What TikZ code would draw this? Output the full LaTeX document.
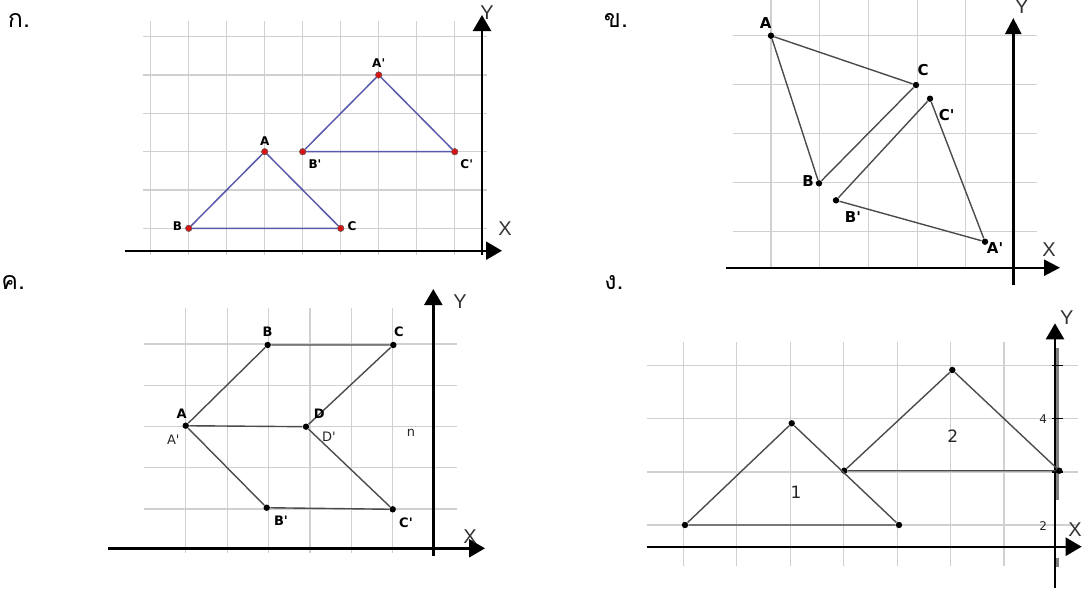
\documentclass[tikz,border=0pt]{standalone}
\usepackage{fontspec}
\setmainfont{Liberation Sans}
\newfontfamily\thaifont[Script=Thai]{Loma}
\newfontfamily\lblfont{DejaVu Sans}
\usetikzlibrary{arrows.meta}
\definecolor{gridgray}{RGB}{208,208,208}
\definecolor{segblue}{RGB}{90,90,172}
\definecolor{seggray}{RGB}{75,75,75}
\definecolor{dotred}{RGB}{215,20,20}

\begin{document}
\begin{tikzpicture}[x=0.5pt, y=-0.5pt,
    gridline/.style={draw=gridgray, line width=0.6pt},
    axis/.style={-{Triangle[length=8pt, width=9pt]}, line width=1.2pt},
    seg/.style={draw=seggray, line width=0.7pt},
    bseg/.style={draw=segblue, line width=0.75pt},
    pt/.style={circle, fill=black, inner sep=0pt, minimum size=3.2pt},
    rpt/.style={circle, fill=dotred, draw=black!60, line width=0.2pt, inner sep=0pt, minimum size=3.2pt},
    tag/.style={font=\thaifont\fontsize{12.5}{15}\selectfont, inner sep=0pt},
    axlbl/.style={font=\fontsize{10}{12}\selectfont, text=black!80, inner sep=0pt},
    lbl/.style={font=\lblfont\bfseries\fontsize{#1}{#1}\selectfont, inner sep=0pt},
    lbl/.default=6.5,
    rlbl/.style={font=\lblfont\fontsize{#1}{#1}\selectfont, text=black!85, inner sep=0pt},
    rlbl/.default=6.5
]
    \useasboundingbox (0,0) rectangle (1082,590);

    % ก.
    \node[tag] (tagA) at (19,20) {ก.};
    \foreach \i in {0,...,8} \draw[gridline] ({150.7+38*\i},21) -- ++(0,234);
    \foreach \j in {0,...,5} \draw[gridline] (143,{36.7+38.3*\j}) -- (487,{36.7+38.3*\j});
    \draw[axis] (125,250.7) -- (502,250.7);
    \draw[axis] (482,255) -- (482,15);
    \node[axlbl] (yA) at (487,13) {Y};
    \node[axlbl] (xA) at (505,229) {X};
    \node[rpt] (kA) at (264.7,151.7) {};
    \node[rpt] (kB) at (188.7,228.3) {};
    \node[rpt] (kC) at (340.7,228.3) {};
    \node[rpt] (kA') at (378.7,75) {};
    \node[rpt] (kB') at (302.7,151.7) {};
    \node[rpt] (kC') at (454.7,151.7) {};
    \draw[bseg] (kA) -- (kB) -- (kC) -- (kA);
    \draw[bseg] (kA') -- (kB') -- (kC') -- (kA');
    \node[rpt] at (kA) {}; \node[rpt] at (kB) {}; \node[rpt] at (kC) {};
    \node[rpt] at (kA') {}; \node[rpt] at (kB') {}; \node[rpt] at (kC') {};
    \node[lbl=6] (lkA) at (264.7,141) {A};
    \node[lbl=6] (lkB) at (177.5,225.7) {B};
    \node[lbl=6] (lkC) at (352,225.7) {C};
    \node[lbl=6] (lkA') at (378.7,63.3) {A'};
    \node[lbl=6] (lkB') at (315,164) {B'};
    \node[lbl=6] (lkC') at (466.7,164) {C'};

    % ข.
    \node[tag] (tagB) at (616,20) {ข.};
    \foreach \i in {0,...,4} \draw[gridline] ({771+48.7*\i},0) -- ++(0,267);
    \foreach \j in {0,...,4} \draw[gridline] (733,{35.7+49*\j}) -- (1037,{35.7+49*\j});
    \draw[axis, -{Triangle[length=8pt, width=8pt]}] (726,267.7) -- (1060,267.7);
    \draw[axis, -{Triangle[length=8pt, width=8pt]}] (1013.3,285) -- (1013.3,18);
    \node[axlbl] (yB) at (1021.7,7) {Y};
    \node[axlbl] (xB) at (1049,250) {X};
    \node[pt] (mA) at (771,35.7) {};
    \node[pt] (mB) at (819,183.3) {};
    \node[pt] (mC) at (916,85) {};
    \node[pt] (mA') at (985,241.7) {};
    \node[pt] (mB') at (836,200.3) {};
    \node[pt] (mC') at (930,98.7) {};
    \draw[seg] (mA) -- (mC) -- (mB) -- (mA);
    \draw[seg] (mA') -- (mB') -- (mC') -- (mA');
    \node[lbl=7.5] (lmA) at (765.7,22.7) {A};
    \node[lbl=7.5] (lmB) at (808,180.7) {B};
    \node[lbl=7.5] (lmC) at (923,70) {C};
    \node[lbl=7.5] (lmA') at (995,248) {A'};
    \node[lbl=7.5] (lmB') at (853,217) {B'};
    \node[lbl=7.5] (lmC') at (946.7,115) {C'};

    % ค.
    \node[tag, anchor=west] (tagC) at (1,282) {ค.};
    \foreach \i in {0,...,5} \draw[gridline] ({185.7+41.4*\i},308.3) -- ++(0,245);
    \foreach \j in {0,...,4} \draw[gridline] (144,{344+41.25*\j}) -- (456.7,{344+41.25*\j});
    \draw[axis] (108,548.3) -- (485,548.3);
    \draw[axis] (433.3,556) -- (433.3,289);
    \node[axlbl] (yC) at (460,301.7) {Y};
    \node[axlbl] (xC) at (470,536.7) {X};
    \node[pt] (nA) at (185.7,425.7) {};
    \node[pt] (nB) at (267.7,345) {};
    \node[pt] (nC) at (393.3,345) {};
    \node[pt] (nD) at (306,426.7) {};
    \node[pt] (nB') at (266.7,507.7) {};
    \node[pt] (nC') at (392.7,509.3) {};
    \draw[seg] (nA) -- (nB) -- (nC) -- (nD) -- (nA);
    \draw[seg] (nA) -- (nB') -- (nC') -- (nD);
    \node[lbl] (lnA) at (181.7,414) {A};
    \node[rlbl] (lnA') at (173.3,439.3) {A'};
    \node[lbl] (lnB) at (267.7,332) {B};
    \node[lbl] (lnC) at (399,332) {C};
    \node[lbl] (lnD) at (319.3,414) {D};
    \node[rlbl] (lnD') at (329,436.7) {D'};
    \node[rlbl] (lnn) at (411,432.7) {n};
    \node[lbl] (lnB') at (281,520.7) {B'};
    \node[lbl] (lnC') at (406,522.3) {C'};

    % ง.
    \node[tag] (tagD) at (614,282.5) {ง.};
    \foreach \i in {0,...,6} \draw[gridline] ({683.3+53.45*\i},342.3) -- ++(0,223.7);
    \foreach \j in {0,...,3} \draw[gridline] (646.7,{365.7+53.1*\j}) -- (1078,{365.7+53.1*\j});
    \draw[gray, line width=2.2pt] (1057,348) -- (1057,500);
    \draw[gray, line width=1.5pt] (1057,558) -- (1057,567);
    \draw[axis] (646.7,546.7) -- (1081.7,546.7);
    \draw[axis] (1055,588) -- (1055,323.3);
    \foreach \y in {365.7,418.8,471.9} \draw[line width=0.6pt] (1051.7,\y) -- (1063,\y);
    \node[rlbl=6] (l4) at (1043.3,419) {4};
    \node[rlbl=6] (l2) at (1043.3,525.7) {2};
    \node[axlbl] (yD) at (1066.7,317.3) {Y};
    \node[axlbl] (xD) at (1075,530) {X};
    \node[pt] (pA) at (685,525) {};
    \node[pt] (pB) at (791.7,423.3) {};
    \node[pt] (pC) at (899,525) {};
    \node[pt] (qA) at (844.3,470.7) {};
    \node[pt] (qB) at (952.3,370) {};
    \node[pt] (qC) at (1059.3,470.7) {};
    \draw[seg] (pA) -- (pB) -- (pC) -- (pA);
    \draw[seg] (qA) -- (qB) -- (qC) -- (qA);
    \node[rlbl=8.5] (one) at (796,492.7) {1};
    \node[rlbl=8.5] (two) at (952.7,436) {2};
\end{tikzpicture}
\end{document}
